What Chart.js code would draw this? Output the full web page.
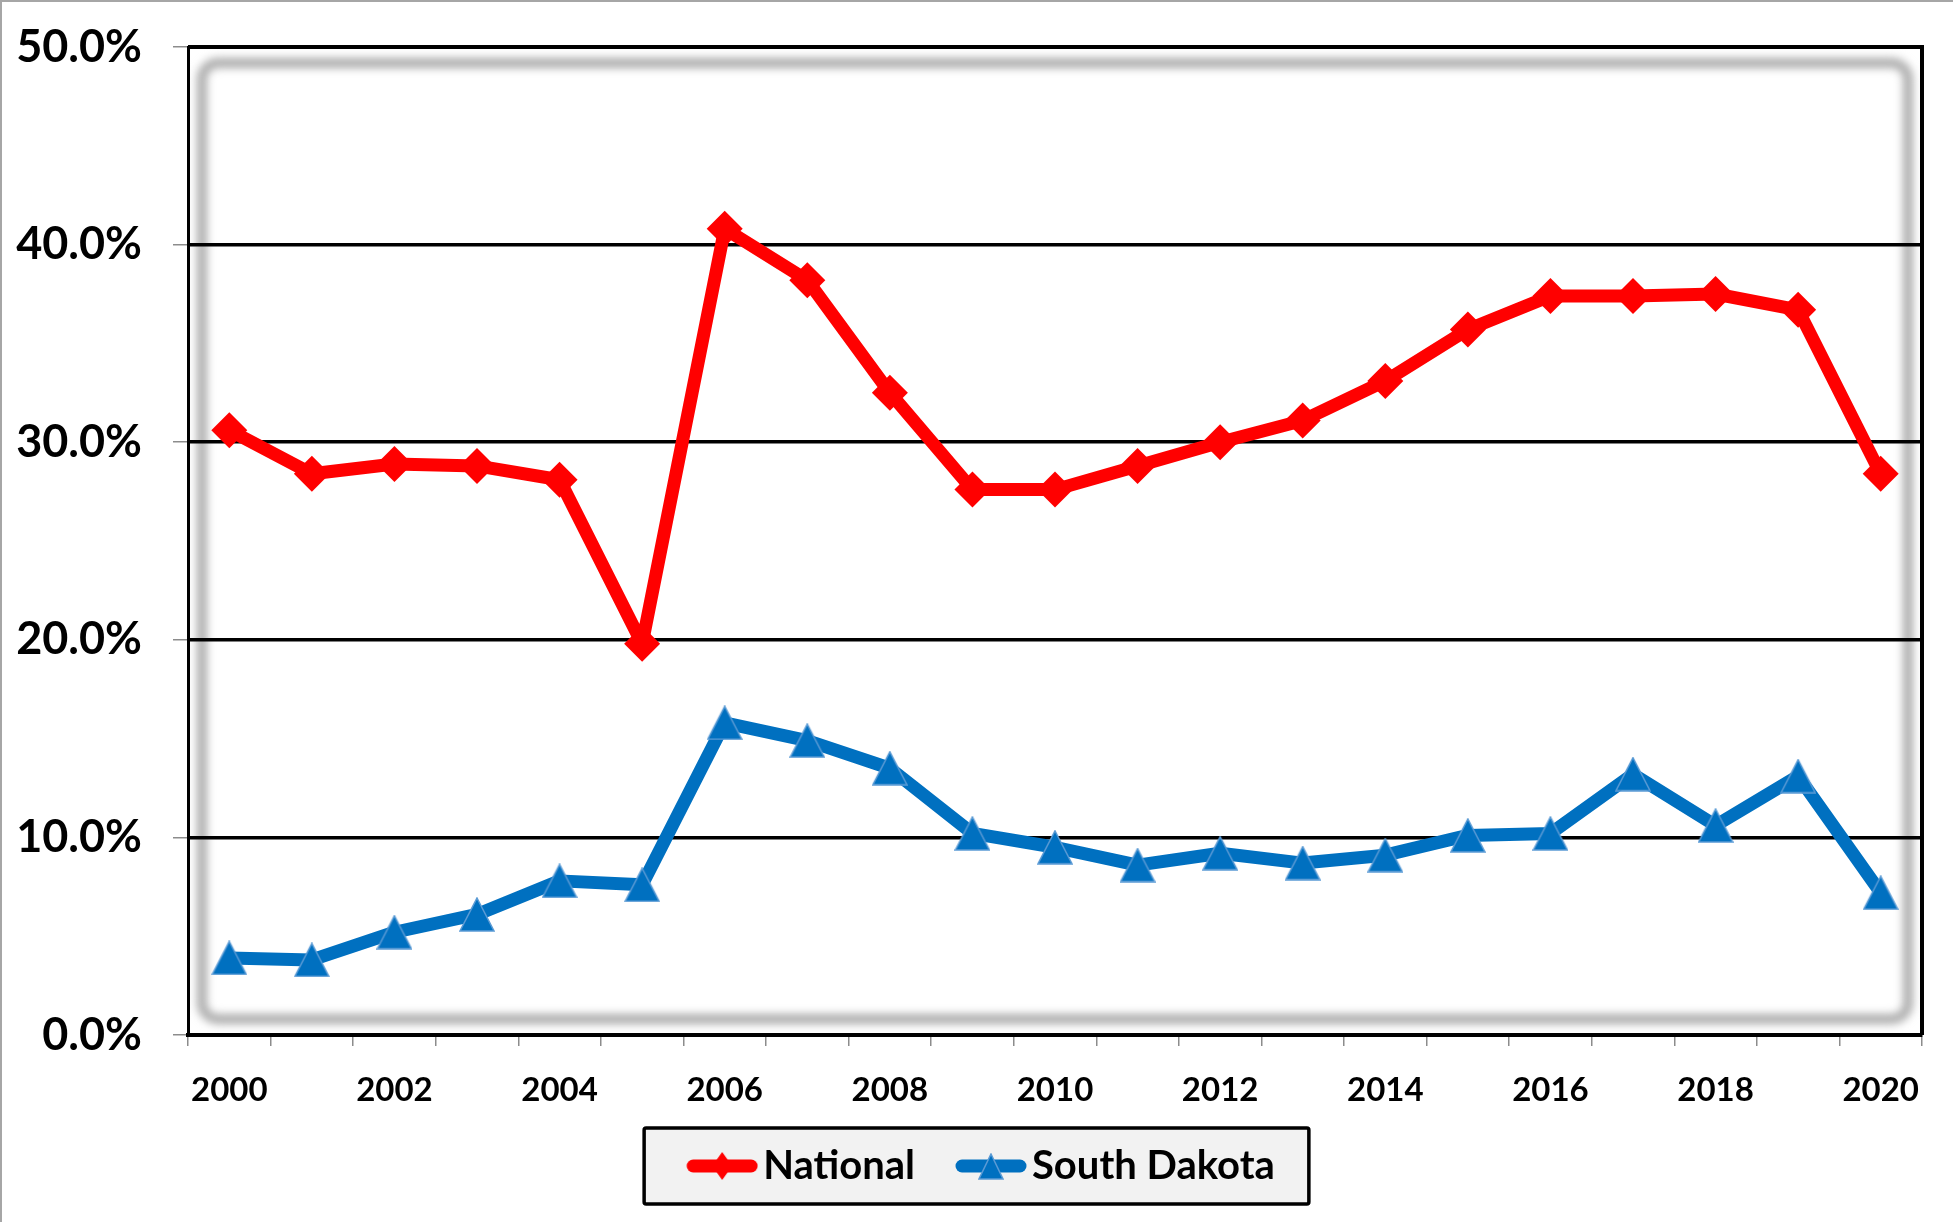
<!DOCTYPE html>
<html>
<head>
<meta charset="utf-8">
<title>National vs South Dakota</title>
<script src="https://cdn.jsdelivr.net/npm/chart.js@4.4.1/dist/chart.umd.min.js"></script>
<style>
  html, body { margin: 0; padding: 0; background: #fff; }
  canvas { display: block; }
</style>
</head>
<body>
<canvas id="rateChart" width="1953" height="1222"></canvas>
<script>
// values, in percent
const years = ['2000', '2001', '2002', '2003', '2004', '2005', '2006', '2007', '2008', '2009', '2010',
               '2011', '2012', '2013', '2014', '2015', '2016', '2017', '2018', '2019', '2020'];
const nationalRates = [30.6, 28.4, 28.9, 28.8, 28.1, 19.8, 40.8, 38.2, 32.5, 27.6, 27.6,
                       28.8, 30.0, 31.1, 33.1, 35.7, 37.4, 37.4, 37.5, 36.7, 28.4];
const southDakotaRates = [3.9, 3.8, 5.2, 6.1, 7.8, 7.6, 15.8, 14.9, 13.5, 10.2, 9.5,
                          8.6, 9.2, 8.7, 9.1, 10.1, 10.2, 13.2, 10.6, 13.1, 7.2];
const seriesNames = ['National', 'South Dakota'];

const RED = '#ff0000';
const BLUE = '#0070c0';
const BLUE_EDGE = '#5b9bd5';
const FONT = 'Lato';

// triangle marker centred on its box, like the spreadsheet one
function makeTriangle(w, h) {
    const c = document.createElement('canvas');
    c.width = w; c.height = h;
    const g = c.getContext('2d');
    g.beginPath();
    g.moveTo(w / 2, 1);
    g.lineTo(w - 1, h - 1);
    g.lineTo(1, h - 1);
    g.closePath();
    g.fillStyle = BLUE;
    g.fill();
    g.strokeStyle = BLUE_EDGE;
    g.lineWidth = 1.5;
    g.stroke();
    return c;
}

// legend swatch: a short thick line with the marker on it.
// 35px of empty space on the left pushes the swatch next to its text
function makeLegendIcon(kind) {
    const pad = 35;
    const c = document.createElement('canvas');
    c.width = 72 + pad; c.height = 30;
    const g = c.getContext('2d');
    g.translate(pad, 0);
    g.lineCap = 'round';
    g.lineWidth = 13;
    g.strokeStyle = kind === 'diamond' ? RED : BLUE;
    g.beginPath();
    g.moveTo(7, 15);
    g.lineTo(65, 15);
    g.stroke();
    if (kind === 'diamond') {
        g.fillStyle = RED;
        g.beginPath();
        g.moveTo(36, 1); g.lineTo(46, 15); g.lineTo(36, 29); g.lineTo(26, 15);
        g.closePath();
        g.fill();
    } else {
        g.drawImage(makeTriangle(26, 27), 23, 2);
    }
    return c;
}

const triangleMarker = makeTriangle(36, 35);
const legendIcons = [makeLegendIcon('diamond'), makeLegendIcon('triangle')];

const framePlugin = {
    id: 'frame',
    afterLayout(chart) {
        // centre the legend on the whole canvas, not on the padded width
        const lg = chart.legend;
        lg.left += 9.5;
        lg.right += 9.5;
    },
    beforeDraw(chart) {
        const ctx = chart.ctx;
        const a = chart.chartArea;
        ctx.save();
        ctx.fillStyle = '#a6a6a6';
        ctx.fillRect(0, 0, chart.width, 2);
        ctx.fillRect(0, 0, 2, chart.height);

        // soft grey inner band of the plot area
        ctx.filter = 'blur(4px)';
        ctx.strokeStyle = '#ababab';
        ctx.lineWidth = 10;
        ctx.beginPath();
        ctx.roundRect(a.left + 14, a.top + 16, a.right - a.left - 28, a.bottom - a.top - 32, 16);
        ctx.stroke();
        ctx.filter = 'none';

        // legend frame
        const hb = chart.legend.legendHitBoxes;
        if (hb && hb.length) {
            const first = hb[0];
            const last = hb[hb.length - 1];
            const cy = first.top + first.height / 2;
            const x0 = first.left - 22;
            const x1 = last.left + last.width + 34;
            ctx.fillStyle = '#f2f2f2';
            ctx.strokeStyle = '#000';
            ctx.lineWidth = 3.5;
            ctx.beginPath();
            ctx.roundRect(x0, cy - 38, x1 - x0, 76, 2);
            ctx.fill();
            ctx.stroke();
        }
        ctx.restore();
    },
    beforeDatasetsDraw(chart) {
        const ctx = chart.ctx;
        const a = chart.chartArea;
        ctx.save();
        ctx.strokeStyle = '#000';
        ctx.lineWidth = 4;
        ctx.beginPath();
        ctx.moveTo(a.left, a.top);
        ctx.lineTo(a.right, a.top);
        ctx.lineTo(a.right, a.bottom);
        ctx.stroke();
        ctx.restore();
    }
};

const config = {
    type: 'line',
    data: {
        labels: years,
        datasets: [{
            label: seriesNames[0],
            data: nationalRates,
            borderColor: RED,
            backgroundColor: RED,
            borderWidth: 13,
            pointStyle: 'rectRot',
            pointRadius: 18,
            pointBorderWidth: 0,
            pointBackgroundColor: RED
        }, {
            label: seriesNames[1],
            data: southDakotaRates,
            borderColor: BLUE,
            backgroundColor: BLUE,
            borderWidth: 13,
            pointStyle: triangleMarker,
            pointRadius: 18,
            pointBorderWidth: 0
        }]
    },
    options: {
        responsive: false,
        animation: false,
        events: [],
        layout: { padding: { top: 47, right: 31, bottom: 26, left: 0 } },
        elements: {
            line: { tension: 0, borderJoinStyle: 'round', borderCapStyle: 'round' }
        },
        clip: false,
        scales: {
            x: {
                offset: true,
                afterFit(scale) { scale.height = 91; },
                grid: {
                    offset: true,
                    drawOnChartArea: false,
                    color: '#8c8c8c',
                    lineWidth: 1.5,
                    tickLength: 11
                },
                border: { color: '#000', width: 4 },
                ticks: {
                    autoSkip: false,
                    maxRotation: 0,
                    padding: 25,
                    color: '#000',
                    font: { family: FONT, size: 33, weight: 'bold' },
                    callback(value, index) {
                        return index % 2 === 0 ? years[index] : '';
                    }
                }
            },
            y: {
                min: 0,
                max: 50,
                afterFit(scale) {
                    scale.width = 188;
                    // keep the plot top at the layout padding
                    scale.paddingTop = 20;
                    scale.paddingBottom = 20;
                },
                grid: {
                    color: '#000',
                    lineWidth: 3.5,
                    tickLength: 15,
                    tickColor: '#8c8c8c',
                    tickWidth: 1.5
                },
                border: { color: '#000', width: 3 },
                ticks: {
                    stepSize: 10,
                    padding: 31,
                    color: '#000',
                    font: { family: FONT, size: 45, weight: 'bold' },
                    callback(value) { return value.toFixed(1) + '%'; }
                }
            }
        },
        plugins: {
            tooltip: { enabled: false },
            legend: {
                position: 'bottom',
                labels: {
                    usePointStyle: true,
                    pointStyleWidth: 77,
                    padding: 20,
                    color: '#000',
                    font: { family: FONT, size: 40, weight: 'bold' },
                    generateLabels(chart) {
                        return chart.data.datasets.map(function (ds, i) {
                            return {
                                text: ds.label,
                                pointStyle: legendIcons[i],
                                fillStyle: ds.borderColor,
                                strokeStyle: ds.borderColor,
                                lineWidth: 0,
                                hidden: false,
                                datasetIndex: i
                            };
                        });
                    }
                }
            }
        }
    },
    plugins: [framePlugin]
};

const ctx = document.getElementById('rateChart').getContext('2d');
new Chart(ctx, config);
</script>
</body>
</html>
